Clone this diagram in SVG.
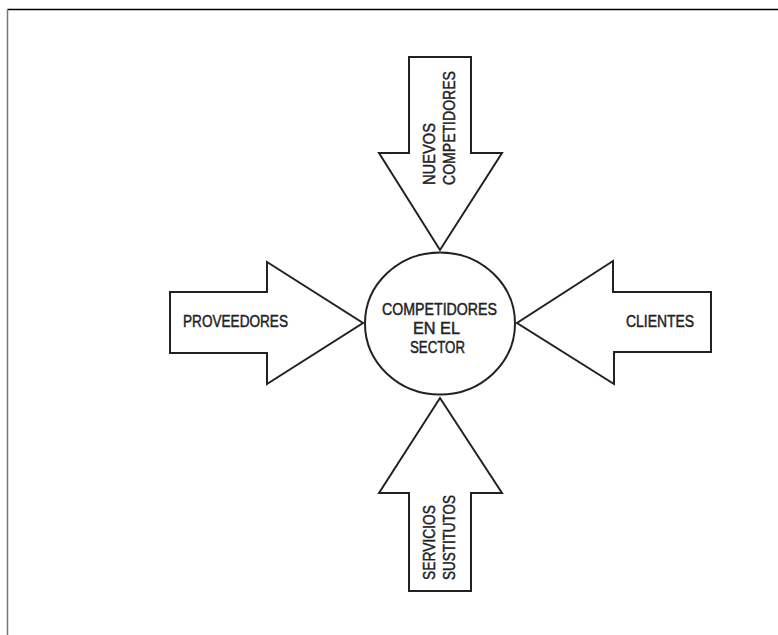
<svg xmlns="http://www.w3.org/2000/svg" width="778" height="635" viewBox="0 0 778 635">
<style>
.shape{fill:#fff;stroke:#222;stroke-width:2;stroke-linejoin:miter}
.lbl{font-family:"Liberation Sans","DejaVu Sans",sans-serif;font-size:16px;fill:#222;stroke:#222;stroke-width:0.45}
</style>
<rect width="778" height="635" fill="#fff"/>
<g id="frame">
<line x1="7.5" y1="9.5" x2="778" y2="9.5" stroke="#000" stroke-width="1.5"/>
<line x1="7.5" y1="9.5" x2="7.5" y2="635" stroke="#777" stroke-width="1.5"/>
</g>
<g id="center">
<ellipse class="shape" cx="440" cy="323.5" rx="75" ry="71"/>
<text class="lbl" x="382" y="315" textLength="115" lengthAdjust="spacingAndGlyphs">COMPETIDORES</text>
<text class="lbl" x="413" y="334" textLength="47" lengthAdjust="spacingAndGlyphs">EN EL</text>
<text class="lbl" x="410" y="353" textLength="55" lengthAdjust="spacingAndGlyphs">SECTOR</text>
</g>
<g id="nuevos">
<path class="shape" d="M409,57 H471 V153 H502 L440,250 L379,153 H409 Z"/>
<text class="lbl" transform="translate(435,185) rotate(-90)" textLength="62" lengthAdjust="spacingAndGlyphs">NUEVOS</text>
<text class="lbl" transform="translate(455,185) rotate(-90)" textLength="114" lengthAdjust="spacingAndGlyphs">COMPETIDORES</text>
</g>
<g id="proveedores">
<path class="shape" d="M170,292 H267 V262 L363,323 L267,384 V353 H170 Z"/>
<text class="lbl" x="183" y="327" textLength="105" lengthAdjust="spacingAndGlyphs">PROVEEDORES</text>
</g>
<g id="clientes">
<path class="shape" d="M711,292 H613 V261 L517,323 L614,384 V352 H711 Z"/>
<text class="lbl" x="626" y="327" textLength="68" lengthAdjust="spacingAndGlyphs">CLIENTES</text>
</g>
<g id="servicios">
<path class="shape" d="M409,591 H471 V493 H502 L440,398 L379,493 H409 Z"/>
<text class="lbl" transform="translate(435,580) rotate(-90)" textLength="75" lengthAdjust="spacingAndGlyphs">SERVICIOS</text>
<text class="lbl" transform="translate(455,580) rotate(-90)" textLength="85" lengthAdjust="spacingAndGlyphs">SUSTITUTOS</text>
</g>
<g id="connectors"></g>
</svg>
